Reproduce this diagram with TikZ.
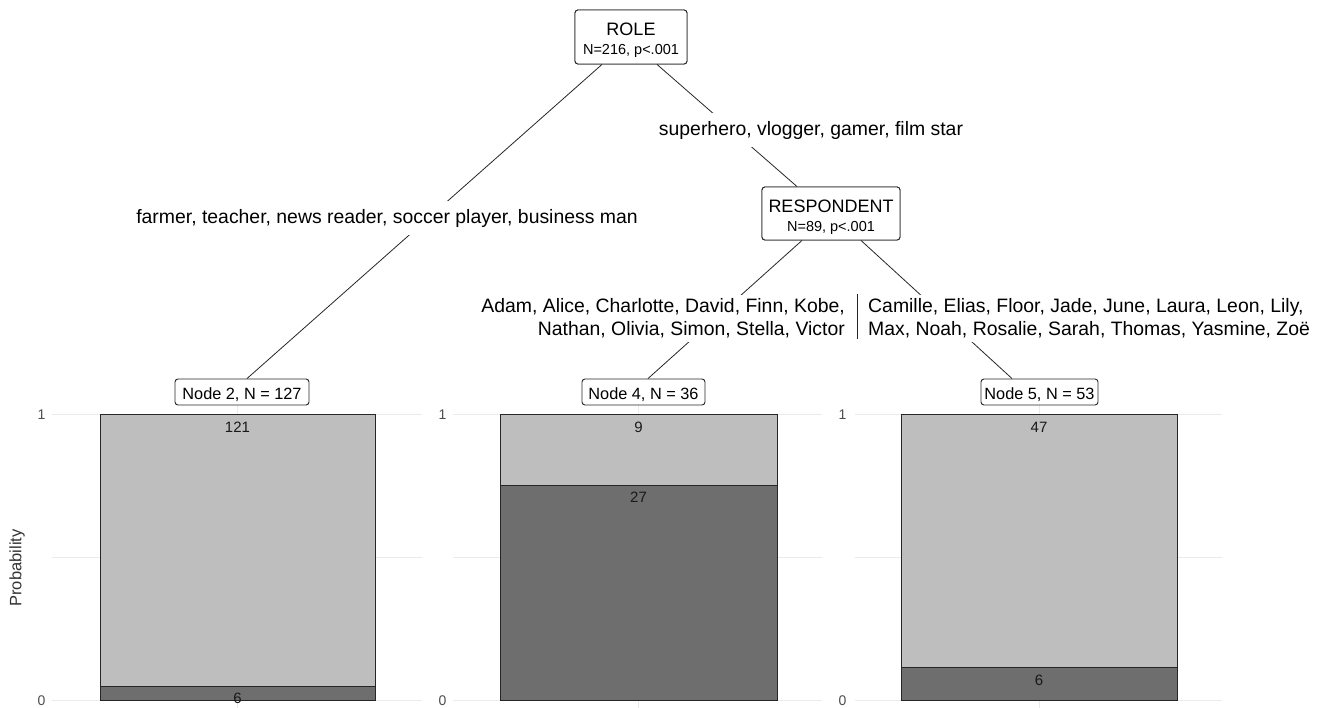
\documentclass[tikz,border=0pt]{standalone}
\usepackage{fontspec}
\setmainfont{Liberation Sans}
\usetikzlibrary{calc}
\definecolor{barlight}{HTML}{BEBEBE}
\definecolor{bardark}{HTML}{6E6E6E}
\definecolor{gridc}{HTML}{EBEBEB}
\definecolor{tickc}{HTML}{4D4D4D}
\newcommand{\myfs}[1]{\fontsize{#1}{#1}\selectfont}
\begin{document}
\begin{tikzpicture}[x=1pt,y=-1pt,
  innerbox/.style={draw=black!85, line width=0.9pt, rounded corners=3pt, fill=white, inner sep=0pt},
  termbox/.style={draw=black!85, line width=0.9pt, rounded corners=3pt, fill=white, inner sep=0pt, minimum height=26pt},
  edgeline/.style={draw=black!85, line width=0.8pt},
  elabel/.style={fill=white, inner xsep=2pt, inner ysep=8pt, font=\myfs{19.4}},
  elabeltwo/.style={fill=white, inner xsep=2pt, inner ysep=4pt, font={\fontsize{19.4}{23}\selectfont}},
  boxtxt/.style={anchor=base, inner sep=0pt},
  gridline/.style={draw=gridc, line width=1pt},
  barseg/.style={draw=black!85, line width=1pt},
  cnt/.style={anchor=base, font=\myfs{15}, text=black!90, inner sep=0pt},
  ticklab/.style={font=\myfs{14}, text=tickc, inner sep=0pt},
]
\useasboundingbox (0,0) rectangle (1323,708);

% ---------- panels: grid ----------
\foreach \xl/\xr/\xc/\xt in {52/422/237.5/41.5, 453/822/638.5/442.5, 855/1222/1039/842.5}{
  \draw[gridline] (\xl,415) -- (\xr,415);
  \draw[gridline] (\xl,557.5) -- (\xr,557.5);
  \draw[gridline] (\xl,700) -- (\xr,700);
  \draw[gridline] (\xc,405) -- (\xc,708);
  \node[ticklab] at (\xt,415) {1};
  \node[ticklab] at (\xt,700.5) {0};
}
\node[rotate=90, font=\myfs{16.5}, text=black!80, inner sep=0pt] (ylab) at (17,568) {Probability};

% ---------- bars ----------
% Node 2
\draw[barseg, fill=barlight] (100,414.5) rectangle (375,686.5);
\draw[barseg, fill=bardark] (100,686.5) rectangle (375,700);
\node[cnt] at (237.5,432) {121};
\node[cnt] at (237.5,703) {6};
% Node 4
\draw[barseg, fill=barlight] (500,414.5) rectangle (777,485.5);
\draw[barseg, fill=bardark] (500,485.5) rectangle (777,700);
\node[cnt] at (638.5,432) {9};
\node[cnt] at (638.5,502) {27};
% Node 5
\draw[barseg, fill=barlight] (901,414.5) rectangle (1177,667.6);
\draw[barseg, fill=bardark] (901,667.6) rectangle (1177,700);
\node[cnt] at (1039,432) {47};
\node[cnt] at (1039,685) {6};

% ---------- tree boxes (shapes first, for anchors) ----------
\node[innerbox, minimum width=112pt, minimum height=54pt] (role) at (631,37) {};
\node[innerbox, minimum width=138pt, minimum height=53pt] (resp) at (831,213.5) {};
\node[termbox, minimum width=134pt] (n2) at (242,392) {};
\node[termbox, minimum width=123pt] (n4) at (643.5,392) {};
\node[termbox, minimum width=117pt] (n5) at (1039.5,392) {};

% ---------- connectors ----------
\draw[edgeline] ($(role.south)+(-29,0)$) -- ($(n2.north)+(5,0)$);
\draw[edgeline] ($(role.south)+(26,0)$) -- ($(resp.north)+(-34,0)$);
\draw[edgeline] ($(resp.south)+(-29,0)$) -- ($(n4.north)+(4.5,0)$);
\draw[edgeline] ($(resp.south)+(30,0)$) -- ($(n5.north)+(-27.5,0)$);

% ---------- edge labels ----------
\node[elabel] (l2) at (387,218) {farmer, teacher, news reader, soccer player, business man};
\node[elabel] (l3) at (811,130) {superhero, vlogger, gamer, film star};
\node[elabeltwo, align=right, anchor=east] (l4) at (847,318.5) {Adam, Alice, Charlotte, David, Finn, Kobe,\\Nathan, Olivia, Simon, Stella, Victor};
\node[elabeltwo, align=left, anchor=west] (l5) at (866,318.5) {Camille, Elias, Floor, Jade, June, Laura, Leon, Lily,\\Max, Noah, Rosalie, Sarah, Thomas, Yasmine, Zoë};
\coordinate (sepT) at (857,294);
\coordinate (sepB) at (857,339);
\draw[edgeline] (sepT) -- (sepB);

% ---------- redraw boxes on top with text ----------
\node[innerbox, minimum width=112pt, minimum height=54pt] at (role) {};
\node[boxtxt, font=\myfs{18}] (roleT) at (631,36) {ROLE};
\node[boxtxt, font=\myfs{14.5}] (roleS) at (631,55) {N=216, p<.001};
\node[innerbox, minimum width=138pt, minimum height=53pt] at (resp) {};
\node[boxtxt, font=\myfs{18}] (respT) at (831,213) {RESPONDENT};
\node[boxtxt, font=\myfs{14.5}] (respS) at (831,231.5) {N=89, p<.001};
\node[boxtxt, font=\myfs{16.3}] (n2T) at (242,399.5) {Node 2, N = 127};
\node[boxtxt, font=\myfs{16.3}] (n4T) at (643.5,399.5) {Node 4, N = 36};
\node[boxtxt, font=\myfs{16.3}] (n5T) at (1039.5,399.5) {Node 5, N = 53};
\end{tikzpicture}
\end{document}
